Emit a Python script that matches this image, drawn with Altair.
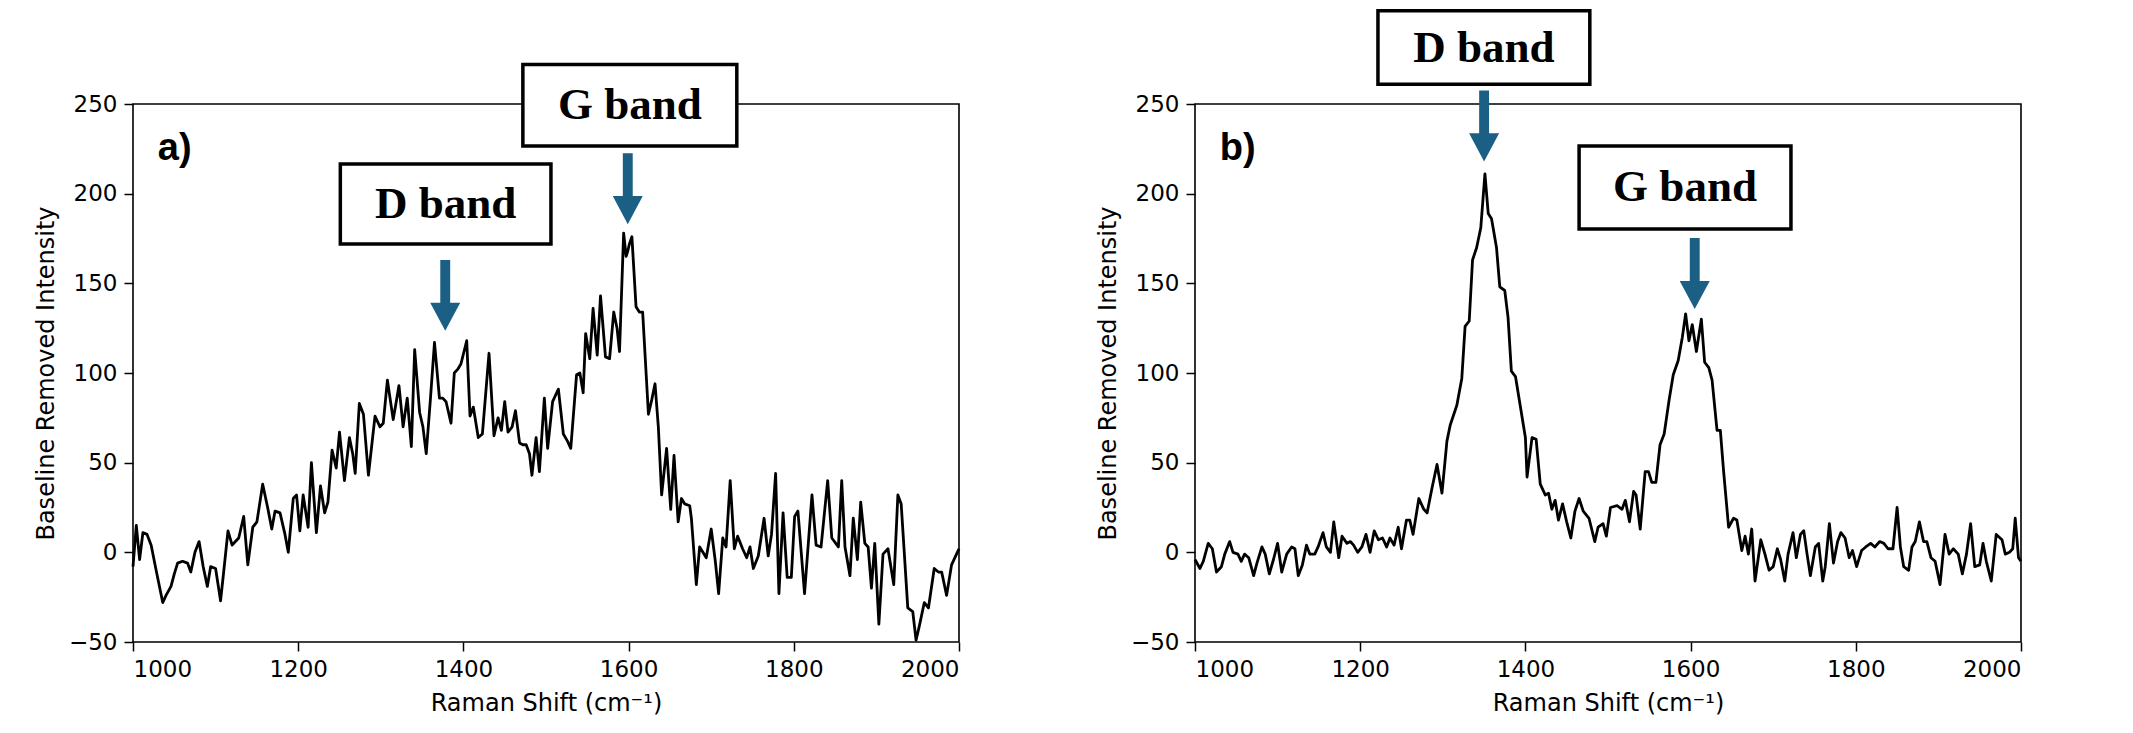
import altair as alt
import pandas as pd

# ---------------- data ----------------
a_shift = [1000, 1004, 1008, 1012, 1017, 1022, 1028, 1036, 1040, 1046, 1050, 1054, 1060, 1066, 1070,
           1075, 1080, 1085, 1090, 1094, 1100, 1106, 1110, 1115, 1120, 1124, 1128, 1134, 1139, 1145,
           1150, 1157, 1163, 1168, 1172, 1178, 1184, 1188, 1194, 1198, 1202, 1206, 1210, 1212, 1216,
           1222, 1227, 1232, 1236, 1241, 1246, 1250, 1256, 1262, 1266, 1269, 1274, 1279, 1285, 1293,
           1299, 1303, 1308, 1315, 1318, 1322, 1327, 1332, 1337, 1341, 1347, 1351, 1355, 1360, 1365,
           1371, 1375, 1379, 1385, 1389, 1393, 1397, 1404, 1408, 1412, 1418, 1423, 1431, 1437, 1442,
           1446, 1450, 1454, 1459, 1463, 1468, 1472, 1476, 1480, 1483, 1488, 1492, 1498, 1502, 1508,
           1515, 1521, 1526, 1530, 1537, 1541, 1545, 1548, 1553, 1557, 1562, 1566, 1572, 1577, 1582,
           1586, 1589, 1594, 1597, 1599, 1601, 1604, 1609, 1613, 1617, 1624, 1628, 1632, 1636, 1640,
           1646, 1651, 1655, 1660, 1664, 1668, 1674, 1676, 1682, 1686, 1690, 1694, 1700, 1705, 1709,
           1714, 1718, 1723, 1728, 1732, 1738, 1743, 1747, 1751, 1757, 1764, 1769, 1773, 1778, 1782,
           1787, 1792, 1797, 1801, 1805, 1813, 1822, 1827, 1833, 1841, 1846, 1854, 1858, 1862, 1868,
           1872, 1877, 1881, 1886, 1890, 1894, 1898, 1903, 1908, 1914, 1921, 1926, 1930, 1938, 1944,
           1948, 1952, 1958, 1963, 1970, 1975, 1979, 1985, 1991, 1997, 2000]
a_intensity = [-8, 15, -4, 11, 10, 4, -10, -28, -24, -19, -12, -6, -5, -6, -11,
               0, 6, -8, -19, -8, -9, -27, -10, 12, 4, 6, 8, 20, -7, 14,
               17, 38, 25, 13, 23, 22, 10, 0, 30, 32, 12, 32, 20, 14, 50,
               11, 37, 22, 28, 57, 47, 67, 40, 64, 55, 44, 83, 77, 43, 76,
               70, 72, 96, 74, 82, 93, 70, 86, 59, 113, 78, 70, 55, 85, 117,
               86, 86, 84, 72, 100, 102, 105, 118, 76, 81, 64, 66, 111, 65, 75,
               68, 84, 67, 70, 79, 61, 60, 60, 55, 43, 64, 45, 86, 58, 84,
               91, 66, 62, 58, 99, 100, 89, 122, 108, 136, 110, 143, 109, 108, 134,
               125, 112, 178, 165, 168, 172, 176, 137, 134, 134, 77, 85, 94, 70, 32,
               58, 24, 54, 17, 30, 27, 26, 19, -18, 3, 0, -3, 13, -5, -23,
               8, 3, 40, 2, 9, 2, -3, 3, -9, -2, 19, -2, 10, 44, -23,
               22, -14, -14, 20, 23, -23, 32, 4, 3, 40, 8, 3, 40, 3, -13,
               19, -4, 28, 5, 3, -20, 5, -40, -1, 2, -18, 32, 27, -31, -33,
               -49, -41, -28, -31, -9, -11, -11, -24, -7, -1, 2]

b_shift = [1000, 1006, 1010, 1016, 1021, 1026, 1032, 1036, 1042, 1046, 1052, 1056, 1060, 1065, 1071,
           1075, 1081, 1085, 1090, 1095, 1100, 1105, 1111, 1117, 1121, 1125, 1130, 1135, 1139, 1145,
           1149, 1155, 1159, 1164, 1168, 1174, 1178, 1184, 1188, 1192, 1197, 1202, 1207, 1212, 1217,
           1222, 1227, 1232, 1236, 1241, 1246, 1250, 1256, 1260, 1264, 1271, 1277, 1281, 1287, 1293,
           1299, 1305, 1309, 1317, 1323, 1327, 1332, 1336, 1341, 1346, 1351, 1355, 1359, 1365, 1369,
           1375, 1379, 1383, 1388, 1394, 1400, 1402, 1408, 1413, 1418, 1424, 1428, 1432, 1436, 1440,
           1445, 1450, 1455, 1460, 1465, 1470, 1477, 1484, 1488, 1494, 1498, 1503, 1511, 1517, 1521,
           1526, 1531, 1534, 1539, 1545, 1549, 1553, 1558, 1563, 1568, 1574, 1579, 1585, 1590, 1594,
           1598, 1602, 1607, 1613, 1617, 1622, 1626, 1632, 1636, 1640, 1646, 1652, 1656, 1662, 1666,
           1670, 1674, 1678, 1685, 1690, 1695, 1700, 1705, 1709, 1714, 1718, 1724, 1728, 1733, 1737,
           1741, 1745, 1751, 1755, 1760, 1763, 1768, 1773, 1778, 1782, 1787, 1792, 1796, 1801, 1807,
           1812, 1818, 1823, 1829, 1834, 1839, 1845, 1850, 1854, 1858, 1864, 1868, 1872, 1877, 1882,
           1886, 1891, 1896, 1902, 1908, 1913, 1918, 1924, 1929, 1934, 1939, 1944, 1950, 1954, 1958,
           1964, 1970, 1977, 1981, 1986, 1990, 1993, 1997, 2000]
b_intensity = [-4, -9, -5, 5, 2, -11, -8, -1, 6, 0, -1, -5, -1, -3, -13,
               -6, 3, -1, -12, -4, 5, -11, -1, 3, 2, -13, -7, 4, -1, -1,
               3, 11, 3, 0, 17, -3, 9, 5, 6, 4, 0, 3, 10, 0, 12,
               7, 8, 3, 8, 4, 14, 2, 18, 18, 10, 30, 24, 22, 36, 49,
               33, 62, 71, 82, 97, 126, 129, 163, 170, 181, 211, 189, 186, 170, 148,
               146, 131, 101, 98, 81, 64, 42, 64, 63, 38, 32, 33, 24, 29, 18,
               27, 17, 8, 23, 30, 23, 19, 6, 14, 16, 9, 25, 26, 24, 29,
               17, 34, 32, 13, 45, 45, 39, 39, 60, 66, 85, 99, 107, 120, 133,
               118, 127, 112, 130, 106, 103, 96, 68, 68, 45, 14, 19, 18, 1, 9,
               -1, 13, -16, 7, -1, -10, -8, 2, -4, -16, -1, 11, -3, 10, 12,
               -1, -13, 3, 5, -16, -8, 16, -6, 6, 11, 8, -3, 1, -8, 1,
               3, 5, 3, 6, 5, 2, 2, 25, 3, -8, -10, 3, 6, 17, 6,
               6, -3, -5, -18, 10, -1, 2, -1, -12, -1, 16, -8, -7, 5, -5,
               -16, 10, 7, -1, 0, 2, 19, -3, -5]

x_ticks = [1000, 1200, 1400, 1600, 1800, 2000]
y_ticks = [-50, 0, 50, 100, 150, 200, 250]
x_title = "Raman Shift (cm\u207b\u00b9)"
y_title = "Baseline Removed Intensity"

# annotations: label, box extents, arrow tip (data units)
a_labels = ["D band", "G band"]
a_box_x1 = [1251, 1472]
a_box_x2 = [1506, 1731]
a_box_y1 = [172, 226.6]
a_box_y2 = [216.6, 272]
a_tip_x = [1378, 1599]
a_tip_y = [123.5, 183]

b_labels = ["D band", "G band"]
b_box_x1 = [1221.5, 1465]
b_box_x2 = [1478, 1721.5]
b_box_y1 = [261, 180.3]
b_box_y2 = [302, 226.6]
b_tip_x = [1350, 1605]
b_tip_y = [218, 135.7]

ARROW = "#1b5f85"
ARROW_PATH = "M0,0L-1,-1.87L-0.33,-1.87L-0.33,-4.73L0.33,-4.73L0.33,-1.87L1,-1.87Z"

W, H = 826, 538


def panel(shift, inten, letter, labels, bx1, bx2, by1, by2, tx, ty):
    xs = alt.Scale(domain=[1000, 2000], nice=False, zero=False)
    ys = alt.Scale(domain=[-50, 250], nice=False, zero=False)
    xa = alt.Axis(values=x_ticks, title=x_title, format="d", grid=False, domain=False)
    ya = alt.Axis(values=y_ticks, title=y_title, grid=False, domain=False)

    spec = pd.DataFrame({"shift": shift, "intensity": inten})
    line = alt.Chart(spec).mark_line(color="black", strokeWidth=2.8, strokeJoin="round").encode(
        x=alt.X("shift:Q", scale=xs, axis=xa),
        y=alt.Y("intensity:Q", scale=ys, axis=ya),
    )

    ann = pd.DataFrame({"label": labels, "x1": bx1, "x2": bx2, "y1": by1, "y2": by2,
                        "tx": tx, "ty": ty})
    ann["cx"] = (ann["x1"] + ann["x2"]) / 2
    ann["cy"] = (ann["y1"] + ann["y2"]) / 2

    boxes = alt.Chart(ann).mark_rect(fill="white", stroke="black", strokeWidth=3.5).encode(
        x="x1:Q", x2="x2:Q", y="y1:Q", y2="y2:Q")
    texts = alt.Chart(ann).mark_text(font="Liberation Serif", fontWeight="bold", fontSize=45,
                                     align="center", baseline="middle", color="black").encode(
        x="cx:Q", y="cy:Q", text="label:N")
    arrows = alt.Chart(ann).mark_point(shape=ARROW_PATH, size=900, filled=True, color=ARROW,
                                       opacity=1, strokeWidth=0).encode(
        x="tx:Q", y="ty:Q")

    lab = pd.DataFrame({"t": [letter], "x": [1030], "y": [219]})
    letter_mark = alt.Chart(lab).mark_text(font="Liberation Sans", fontWeight="bold", fontSize=38,
                                           align="left", baseline="alphabetic", color="black").encode(
        x="x:Q", y="y:Q", text="t:N")

    return alt.layer(line, boxes, texts, arrows, letter_mark).properties(width=W, height=H)


pa = panel(a_shift, a_intensity, "a)", a_labels, a_box_x1, a_box_x2, a_box_y1, a_box_y2, a_tip_x, a_tip_y)
pb = panel(b_shift, b_intensity, "b)", b_labels, b_box_x1, b_box_x2, b_box_y1, b_box_y2, b_tip_x, b_tip_y)

chart = alt.hconcat(pa, pb, spacing=133).properties(
    padding={"left": 25, "top": 0, "right": 5, "bottom": 5},
    background="white",
).configure_view(
    stroke="black", strokeWidth=1.6
).configure_axis(
    labelFont="DejaVu Sans", labelFontSize=23, labelColor="black",
    titleFont="DejaVu Sans", titleFontSize=24, titleColor="black", titleFontWeight="normal",
    tickColor="black", tickSize=9, tickWidth=1.5, labelPadding=7, titlePadding=10,
)

chart.save("out.html", embed_options={"renderer": "svg", "actions": False})
